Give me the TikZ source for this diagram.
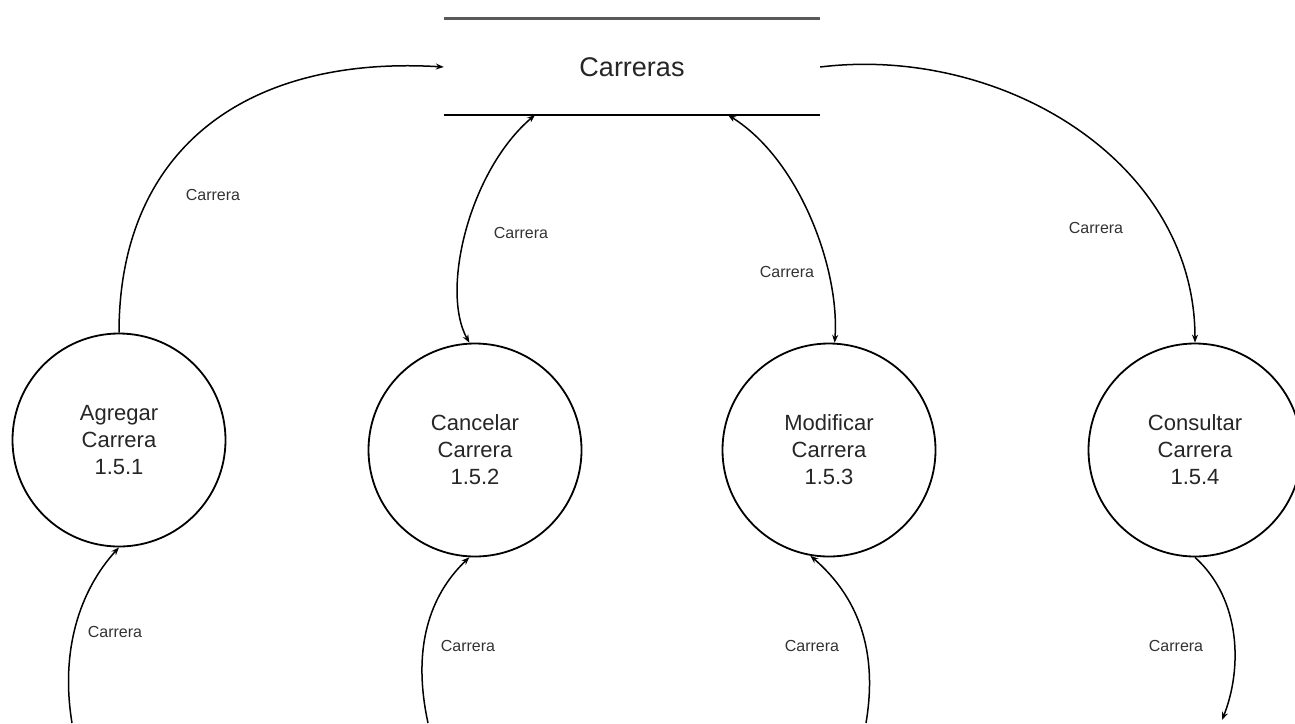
\documentclass[tikz,border=0pt]{standalone}
\usepackage{fontspec}
\setmainfont{Liberation Sans}
\usetikzlibrary{arrows.meta}
\begin{document}
\begin{tikzpicture}[x=1pt,y=-1pt,
  proc/.style={circle,draw=black,line width=1.8pt,minimum size=213pt,inner sep=0pt,
    align=center,text=black!85,font=\fontsize{22}{27}\selectfont},
  storetext/.style={text=black!85,font=\fontsize{27}{30}\selectfont},
  flow/.style={line width=1.5pt,-{Stealth[length=8pt,width=6pt]}},
  biflow/.style={line width=1.5pt,{Stealth[length=8pt,width=6pt]}-{Stealth[length=8pt,width=6pt]}},
  lbl/.style={text=black!80,font=\fontsize{16}{18}\selectfont}]
\useasboundingbox[fill=white] (0,0) rectangle (1295,723);

% data store
\node[storetext,minimum width=376pt,minimum height=96pt,inner sep=0pt] (st) at (632,67) {Carreras};
\draw[line width=3pt,black!65] (st.north west) -- (st.north east);
\draw[line width=2pt] (st.south west) -- (st.south east);
\coordinate (s1) at (535,115);
\coordinate (s2) at (728,115);

% processes
\node[proc] (ag) at (119,440) {Agregar\\Carrera\\1.5.1};
\node[proc] (ca) at (475,450) {Cancelar\\Carrera\\1.5.2};
\node[proc] (mo) at (829,450) {Modificar\\Carrera\\1.5.3};
\node[proc] (co) at (1195,450) {Consultar\\Carrera\\1.5.4};

% flows between store and processes
\draw[flow] (ag.north) .. controls (119,150) and (245,55) .. (st.west);
\draw[biflow] (s1) .. controls (470,170) and (440,290) .. (ca.93);
\draw[biflow] (s2) .. controls (800,160) and (840,270) .. (mo.87);
\draw[flow] (st.east) .. controls (1000,45) and (1195,160) .. (co.north);

% external flows
\coordinate (e1) at (72,723);
\coordinate (e2) at (428,723);
\coordinate (e3) at (866,723);
\coordinate (e4) at (1222,720);
\draw[flow] (e1) .. controls (60,650) and (80,590) .. (ag.south);
\draw[flow] (e2) .. controls (410,640) and (435,590) .. (ca.-93);
\draw[flow] (e3) .. controls (880,640) and (850,590) .. (mo.-100);
\draw[flow] (co.south) .. controls (1242,600) and (1242,670) .. (e4);

% flow labels
\node[lbl] (l1) at (213,195) {Carrera};
\node[lbl] (l2) at (521,233) {Carrera};
\node[lbl] (l3) at (787,272) {Carrera};
\node[lbl] (l4) at (1096,228) {Carrera};
\node[lbl] (l5) at (115,632) {Carrera};
\node[lbl] (l6) at (468,646) {Carrera};
\node[lbl] (l7) at (812,646) {Carrera};
\node[lbl] (l8) at (1176,646) {Carrera};
\end{tikzpicture}
\end{document}
